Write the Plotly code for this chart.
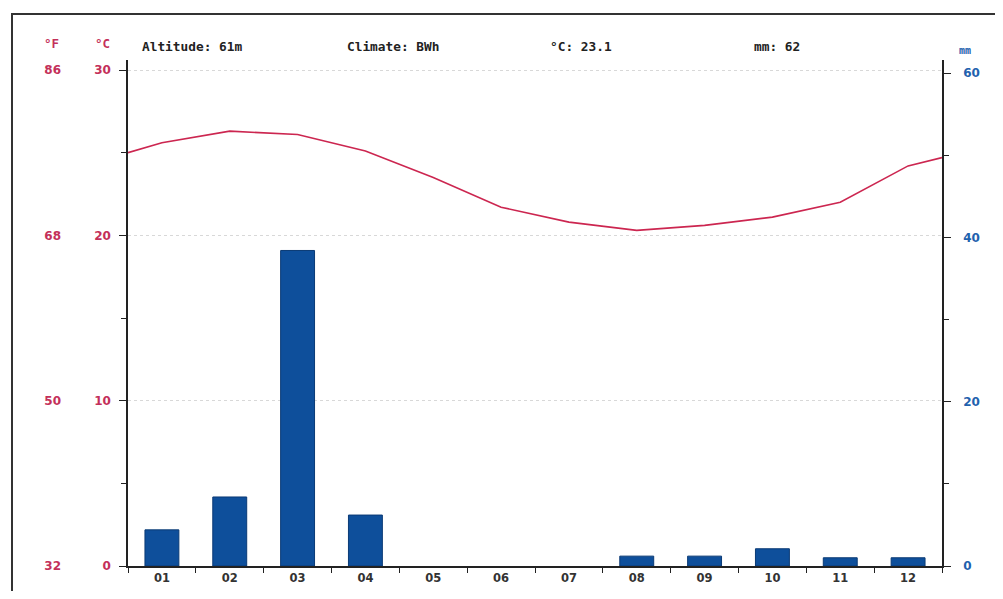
import plotly.graph_objects as go

WIN_W, WIN_H = 1003, 599
OFF = 8  # default page body margin
W, H = WIN_W - 2 * OFF, WIN_H - 2 * OFF

months = ["01", "02", "03", "04", "05", "06", "07", "08", "09", "10", "11", "12"]
month_pos = [1, 2, 3, 4, 5, 6, 7, 8, 9, 10, 11, 12]
precip_mm = [4.4, 8.4, 38.4, 6.2, 0, 0, 0, 1.2, 1.2, 2.1, 1.0, 1.0]
temp_c = [25.6, 26.3, 26.1, 25.1, 23.5, 21.7, 20.8, 20.3, 20.6, 21.1, 22.0, 24.2]
edge_pos = [0.5, 12.5]
edge_temp = [25.0, 24.7]
c_ticks = [0, 10, 20, 30]
f_ticks = [32, 50, 68, 86]
mm_ticks = [0, 20, 40, 60]
header = ["Altitude: 61m", "Climate: BWh", "°C: 23.1", "mm: 62"]
header_x = [140, 345, 548, 752]

RED = "#c4305a"
BLUE = "#1f62ae"
LINE = "#cc2650"
BAR = "#0e4f9b"

def px(x):
    return (x - OFF) / W

def py(y):
    return (H - (y - OFF)) / H

c_top = 30 * (566 - 60) / (566 - 70)
mm_top = 60 * (566 - 60) / (566 - 73)

line_x = [edge_pos[0]] + month_pos + [edge_pos[1]]
line_y = [edge_temp[0]] + temp_c + [edge_temp[1]]

fig = go.Figure()
fig.add_trace(go.Bar(x=month_pos, y=precip_mm, yaxis="y2", width=0.5,
                     marker=dict(color=BAR,
                                 line=dict(color="#0a3a75",
                                           width=[1 if v > 0 else 0 for v in precip_mm])),
                     showlegend=False))
fig.add_trace(go.Scatter(x=line_x, y=line_y, mode="lines", yaxis="y",
                         line=dict(color=LINE, width=1.6), showlegend=False))
fig.add_trace(go.Scatter(x=[None], y=[None], yaxis="y3", showlegend=False))

def tf(color, size=12):
    return dict(family="DejaVu Sans", size=size, color=color, weight="bold")

fig.update_layout(
    width=W, height=H,
    margin=dict(l=0, r=0, t=0, b=0, autoexpand=False),
    paper_bgcolor="white", plot_bgcolor="white",
    xaxis=dict(
        automargin=False,
        domain=[px(128), px(942)], range=[0.5, 12.5],
        tickvals=month_pos, ticktext=months, ticks="",
        tickfont=tf("#333", 11.5),
        showline=True, linecolor="#222", linewidth=1.5,
        showgrid=False, zeroline=False,
        minor=dict(tickvals=[i + 0.5 for i in range(13)], ticks="outside",
                   ticklen=5, tickcolor="#222", tickwidth=1.2, showgrid=False),
        fixedrange=True,
    ),
    yaxis=dict(
        automargin=False,
        domain=[py(566), py(60)], range=[0, c_top],
        tickvals=c_ticks, ticks="outside", ticklen=7, tickcolor="#222",
        tickfont=tf(RED),
        ticklabelstandoff=6,
        showline=True, linecolor="#222", linewidth=1.5,
        showgrid=True, gridcolor="#d8d8d8", griddash="dot", gridwidth=1,
        zeroline=False,
        minor=dict(tickvals=[5, 15, 25], ticks="outside", ticklen=5,
                   tickcolor="#222", showgrid=False),
    ),
    yaxis2=dict(
        automargin=False,
        overlaying="y", side="right", anchor="x",
        range=[0, mm_top], tickvals=mm_ticks, ticks="outside", ticklen=7,
        tickcolor="#222", tickfont=tf(BLUE),
        ticklabelstandoff=10,
        showline=True, linecolor="#222", linewidth=1.5,
        showgrid=False, zeroline=False,
        minor=dict(tickvals=[10, 30, 50], ticks="outside", ticklen=5,
                   tickcolor="#222", showgrid=False),
    ),
    yaxis3=dict(
        automargin=False,
        overlaying="y", side="left", anchor="free", position=px(61),
        range=[32, 32 + c_top * 1.8], tickvals=f_ticks, ticks="",
        tickfont=tf(RED),
        showline=False, showgrid=False, zeroline=False,
    ),
)

fig.add_annotation(x=px(51), y=py(44), xref="paper", yref="paper", text="<b>°F</b>",
                   xanchor="center", yanchor="middle", showarrow=False,
                   font=dict(family="DejaVu Sans Mono", size=12.5, color=RED))
fig.add_annotation(x=px(102), y=py(44), xref="paper", yref="paper", text="<b>°C</b>",
                   xanchor="center", yanchor="middle", showarrow=False,
                   font=dict(family="DejaVu Sans Mono", size=12.5, color=RED))
fig.add_annotation(x=px(965), y=py(50), xref="paper", yref="paper", text="<b>mm</b>",
                   xanchor="center", yanchor="middle", showarrow=False,
                   font=dict(family="DejaVu Sans Mono", size=10, color=BLUE))

for t, x in zip(header, header_x):
    fig.add_annotation(x=px(x), y=py(46), xref="paper", yref="paper", text="<b>" + t + "</b>",
                       xanchor="left", yanchor="middle", showarrow=False,
                       font=dict(family="DejaVu Sans Mono", size=12.8, color="#222"))

fig.add_shape(type="rect", xref="paper", yref="paper",
              x0=px(12), x1=px(1020), y0=py(610), y1=py(14),
              line=dict(color="#333", width=2))

fig.write_html("out.html")
